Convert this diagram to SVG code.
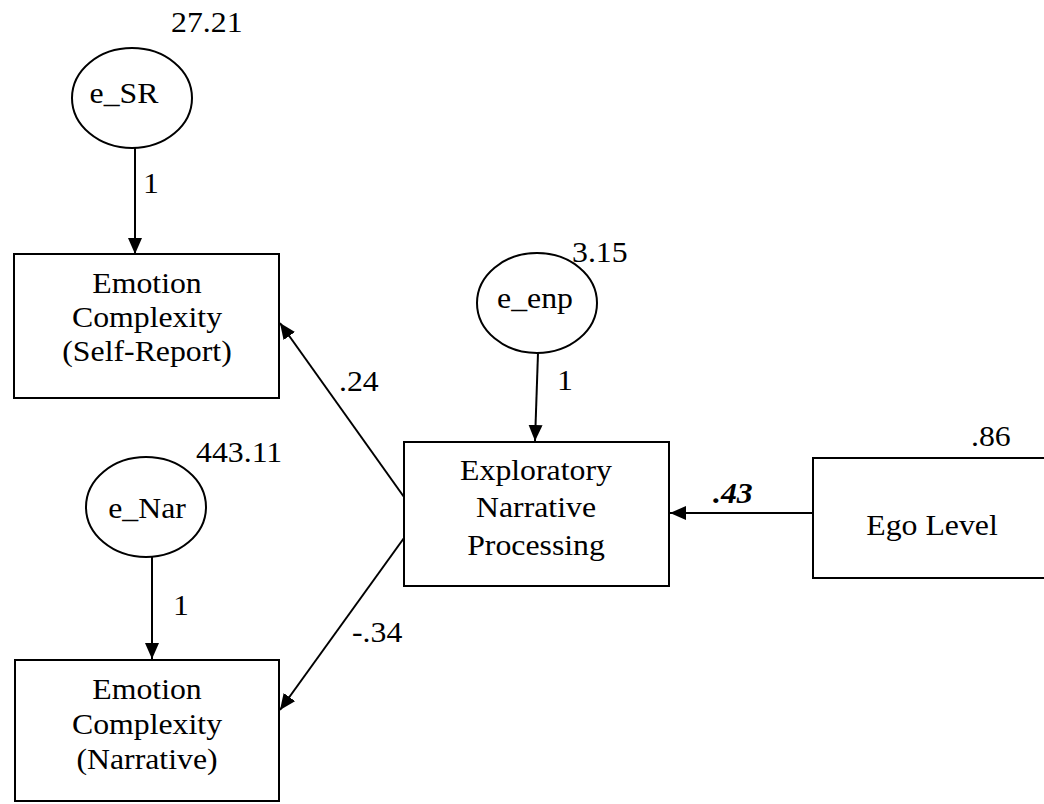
<svg xmlns="http://www.w3.org/2000/svg" width="1044" height="804" viewBox="0 0 1044 804">
<style>
.t{font-family:"Liberation Serif","Times New Roman",serif;font-size:30px;fill:#000}
.c{text-anchor:middle}
.b{font-weight:bold;font-style:italic}
.n{fill:#fff;stroke:#000;stroke-width:2}
.e{stroke:#000;stroke-width:2;fill:none;marker-end:url(#ah)}
</style>
<defs>
<marker id="ah" markerUnits="userSpaceOnUse" markerWidth="17" markerHeight="15" refX="16" refY="7" orient="auto">
<path d="M0,0 L16,7 L0,14 z" fill="#000"/>
</marker>
</defs>
<rect width="1044" height="804" fill="#fff"/>
<g id="connectors">
<line class="e" x1="135" y1="148" x2="135" y2="254"/>
<line class="e" x1="538" y1="353" x2="535" y2="441"/>
<line class="e" x1="152" y1="557" x2="152" y2="659"/>
<line class="e" x1="404" y1="497" x2="280" y2="323"/>
<line class="e" x1="404" y1="538" x2="280" y2="710"/>
<line class="e" x1="813" y1="513" x2="670" y2="513"/>
<text class="t" transform="translate(143,193) scale(1.06,1)">1</text>
<text class="t" transform="translate(557,390) scale(1.06,1)">1</text>
<text class="t" transform="translate(173,615) scale(1.06,1)">1</text>
<text class="t" transform="translate(339,391) scale(1.06,1)">.24</text>
<text class="t" transform="translate(352,642) scale(1.06,1)">-.34</text>
<text class="t b" transform="translate(713,503) scale(1.06,1)">.43</text>
</g>
<g id="e_SR">
<ellipse class="n" cx="132" cy="98" rx="60" ry="50"/>
<text class="t c" transform="translate(124,103) scale(1.06,1)">e_SR</text>
<text class="t" transform="translate(171,32) scale(1.06,1)">27.21</text>
</g>
<g id="ec_sr">
<rect class="n" x="14" y="254" width="265" height="144"/>
<text class="t c" transform="translate(147,293) scale(1.06,1)">Emotion</text>
<text class="t c" transform="translate(147,327) scale(1.06,1)">Complexity</text>
<text class="t c" transform="translate(147,361) scale(1.06,1)">(Self-Report)</text>
</g>
<g id="e_enp">
<ellipse class="n" cx="537" cy="303" rx="60" ry="50"/>
<text class="t c" transform="translate(535,308) scale(1.06,1)">e_enp</text>
<text class="t" transform="translate(572,262) scale(1.06,1)">3.15</text>
</g>
<g id="enp">
<rect class="n" x="404" y="442" width="265" height="144"/>
<text class="t c" transform="translate(536,480) scale(1.06,1)">Exploratory</text>
<text class="t c" transform="translate(536,517) scale(1.06,1)">Narrative</text>
<text class="t c" transform="translate(536,555) scale(1.06,1)">Processing</text>
</g>
<g id="e_Nar">
<ellipse class="n" cx="146" cy="507" rx="60" ry="50"/>
<text class="t c" transform="translate(147,518) scale(1.06,1)">e_Nar</text>
<text class="t" transform="translate(196,462) scale(1.06,1)">443.11</text>
</g>
<g id="ec_nar">
<rect class="n" x="15" y="660" width="264" height="141"/>
<text class="t c" transform="translate(147,699) scale(1.06,1)">Emotion</text>
<text class="t c" transform="translate(147,734) scale(1.06,1)">Complexity</text>
<text class="t c" transform="translate(147,769) scale(1.06,1)">(Narrative)</text>
</g>
<g id="ego">
<rect class="n" x="813" y="458" width="245" height="120"/>
<text class="t c" transform="translate(932,535) scale(1.06,1)">Ego Level</text>
<text class="t" transform="translate(971,446) scale(1.06,1)">.86</text>
</g>
</svg>
